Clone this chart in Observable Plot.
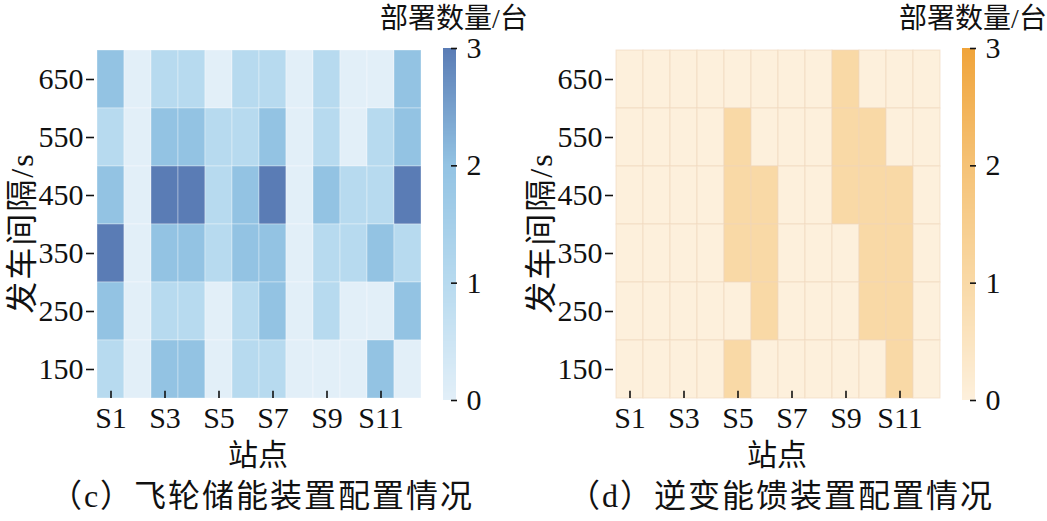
<!DOCTYPE html>
<html><head><meta charset="utf-8">
<script src="https://cdn.jsdelivr.net/npm/d3@7"></script>
<script src="https://cdn.jsdelivr.net/npm/@observablehq/plot@0.6"></script>
<style>
body{margin:0;background:#fff;}
#root{position:relative;width:1047px;height:521px;overflow:hidden;font-family:"Liberation Serif","Noto Sans CJK SC",serif;color:#111;}
.abs{position:absolute;white-space:nowrap;line-height:1;}
.cjk{font-family:"Liberation Serif","Noto Sans CJK SC",sans-serif;}
</style></head><body><div id="root"></div>
<script>
// ---- data ----
const stations = ["S1","S2","S3","S4","S5","S6","S7","S8","S9","S10","S11","S12"];
const intervals = [650, 550, 450, 350, 250, 150];
const stationTicks = ["S1","S3","S5","S7","S9","S11"];
const colorbarTicks = [0, 1, 2, 3];
// rows follow `intervals`, columns follow `stations`
const flywheel = [
  [2,0,1,1,0,1,1,0,1,0,0,2],
  [1,0,2,2,1,1,2,0,1,0,1,2],
  [2,0,3,3,1,2,3,0,2,1,1,3],
  [3,0,2,2,1,2,2,0,1,1,2,1],
  [2,0,1,1,0,1,2,0,1,0,0,2],
  [1,0,2,2,0,1,1,0,0,0,2,0]
];
const inverter = [
  [0,0,0,0,0,0,0,0,1,0,0,0],
  [0,0,0,0,1,0,0,0,1,1,0,0],
  [0,0,0,0,1,1,0,0,1,1,1,0],
  [0,0,0,0,1,1,0,0,0,1,1,0],
  [0,0,0,0,0,1,0,0,0,1,1,0],
  [0,0,0,0,1,0,0,0,0,0,1,0]
];
const blueColors = ["#e2eff8","#b7daef","#93c3e3","#5a7cb5"];
const orangeColors = ["#fdf0dc","#f9d9a6","#f5c276","#f0a43a"];
const colorbarTitle = "部署数量/台";
const yTitle = "发车间隔/s";
const xTitle = "站点";
const captions = ["（c）飞轮储能装置配置情况", "（d）逆变能馈装置配置情况"];

const root = document.getElementById("root");
const font = {fontFamily: '"Liberation Serif","Noto Sans CJK SC",serif', fontSize: "30px", color: "#111", background: "transparent", overflow: "visible"};

function place(el, left, top) {
  el.style.position = "absolute";
  el.style.left = left + "px";
  el.style.top = top + "px";
  root.appendChild(el);
}
function text(str, cx, cy, size, rotate, spacing) {
  const d = document.createElement("div");
  d.className = "abs cjk";
  d.textContent = str;
  d.style.fontSize = size + "px";
  if (spacing) d.style.letterSpacing = spacing + "px";
  d.style.left = cx + "px";
  d.style.top = cy + "px";
  d.style.transform = "translate(-50%,-50%)" + (rotate ? " rotate(-90deg)" : "");
  root.appendChild(d);
}

function panel(ox, values, colors, gridStroke, gridOpacity, caption) {
  const table = intervals.flatMap((iv, i) => stations.map((s, j) => ({station: s, interval: iv, value: values[i][j]})));
  const H = 480, mt = 48, mb = 80;
  const bw = (H - mt - mb) / intervals.length;
  const color = {type: "linear", domain: [0, 1, 2, 3], range: colors};
  const heat = Plot.plot({
    width: 440, height: H, marginLeft: 94, marginRight: 17, marginTop: mt, marginBottom: mb,
    style: font,
    x: {type: "band", domain: stations, padding: 0, label: null},
    y: {type: "band", domain: intervals, padding: 0, label: null},
    color,
    marks: [
      Plot.cell(table, {x: "station", y: "interval", fill: "value", inset: 0, stroke: gridStroke, strokeOpacity: gridOpacity, strokeWidth: 1}),
      Plot.axisY({tickSize: 8, tickPadding: 3, strokeWidth: 1.6, tickFormat: d => String(d)}),
      Plot.axisX({ticks: stationTicks, tickSize: 0, tickPadding: 6}),
      Plot.tickX(stationTicks, {x: d => d, y: () => intervals[intervals.length - 1], insetTop: bw - 8, stroke: "#111", strokeWidth: 1.6})
    ]
  });
  place(heat, ox, 0);

  const steps = d3.range(0, 3, 0.01);
  const bar = Plot.plot({
    width: 53, height: H, marginLeft: 0, marginRight: 40, marginTop: mt, marginBottom: mb,
    style: font,
    x: {domain: [0, 1], axis: null},
    y: {domain: [0, 3], label: null},
    color,
    marks: [
      Plot.rect(steps, {x1: 0, x2: 1, y1: d => d, y2: d => Math.min(3, d + 0.02), fill: d => d + 0.005, shapeRendering: "crispEdges"}),
      Plot.tickY(colorbarTicks, {y: d => d, insetLeft: 8, insetRight: -1, stroke: "#111", strokeWidth: 1.6}),
      Plot.axisY({anchor: "right", ticks: colorbarTicks, tickSize: 0, tickPadding: 10, tickFormat: d3.format("d")})
    ]
  });
  place(bar, ox + 443, 0);

  text(colorbarTitle, ox + 454, 19, 28);
  text(yTitle, ox + 22, 233, 32, true, 2);
  text(xTitle, ox + 258, 455, 30);
  text(caption, ox + 262, 496, 32, false, 2);
}

panel(0, flywheel, blueColors, "#ffffff", 0.35, captions[0]);
panel(519, inverter, orangeColors, "#efd6bd", 0.6, captions[1]);
</script></body></html>
